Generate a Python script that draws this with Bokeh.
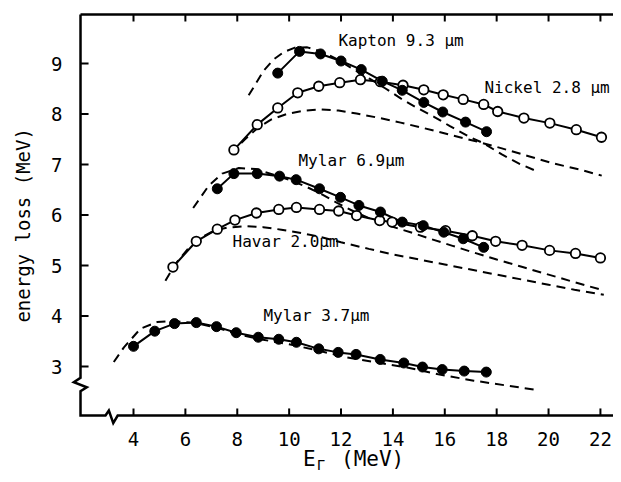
from bokeh.plotting import figure
from bokeh.models import Range1d, FixedTicker, ColumnDataSource
from bokeh.embed import file_html
from bokeh.resources import INLINE
from bokeh.core.properties import value

# ---------------- data (E_r in MeV, energy loss in MeV) ----------------
# measured points
kapton_e = [9.56, 10.40, 11.21, 12.0, 12.78, 13.59, 14.36, 15.19, 15.92, 16.80, 17.61]
kapton_v = [8.81, 9.24, 9.19, 9.05, 8.88, 8.65, 8.47, 8.23, 8.04, 7.84, 7.65]

nickel_e = [7.87, 8.77, 9.56, 10.33, 11.14, 11.95, 12.75, 13.52, 14.39, 15.19, 15.94,
            16.71, 17.50, 18.04, 19.05, 20.05, 21.07, 22.04]
nickel_v = [7.29, 7.79, 8.12, 8.42, 8.55, 8.62, 8.68, 8.64, 8.57, 8.48, 8.38,
            8.29, 8.19, 8.05, 7.92, 7.82, 7.69, 7.54]

mylar69_e = [7.23, 7.87, 8.77, 9.63, 10.27, 11.17, 11.98, 12.69, 13.52, 14.36, 15.17,
             15.96, 16.71, 17.50]
mylar69_v = [6.52, 6.82, 6.82, 6.77, 6.70, 6.52, 6.35, 6.19, 6.06, 5.86, 5.79,
             5.66, 5.53, 5.36]

havar_e = [5.52, 6.42, 7.23, 7.91, 8.74, 9.60, 10.28, 11.17, 11.91, 12.60, 13.49, 13.97,
           15.06, 16.03, 17.06, 17.96, 18.98, 20.04, 21.04, 22.0]
havar_v = [4.97, 5.48, 5.72, 5.90, 6.04, 6.11, 6.15, 6.11, 6.08, 5.99, 5.89, 5.86,
           5.76, 5.69, 5.59, 5.48, 5.40, 5.30, 5.24, 5.15]

mylar37_e = [4.0, 4.82, 5.58, 6.42, 7.20, 7.96, 8.81, 9.60, 10.28, 11.14, 11.89, 12.58,
             13.51, 14.42, 15.14, 15.90, 16.75, 17.60]
mylar37_v = [3.40, 3.70, 3.85, 3.87, 3.79, 3.67, 3.58, 3.54, 3.48, 3.35, 3.28, 3.24,
             3.14, 3.07, 2.99, 2.94, 2.91, 2.89]

# calculated (dashed) curves
kapton_th_e = [8.44, 9.02, 9.4, 9.8, 10.2, 10.7, 11.3, 11.9, 12.5, 13.1, 13.7, 14.3,
               14.9, 15.6, 16.2, 16.9, 17.5, 18.2, 18.9, 19.62]
kapton_th_v = [8.37, 8.86, 9.08, 9.23, 9.31, 9.32, 9.23, 9.07, 8.88, 8.70, 8.51, 8.31,
               8.13, 7.94, 7.76, 7.56, 7.42, 7.20, 7.01, 6.85]

nickel_th_e = [7.74, 8.3, 8.8, 9.3, 9.9, 10.5, 11.2, 11.9, 12.6, 13.4, 14.3, 15.2,
               16.2, 17.2, 18.2, 19.2, 20.2, 21.2, 22.05]
nickel_th_v = [7.22, 7.50, 7.73, 7.89, 8.00, 8.06, 8.09, 8.07, 8.01, 7.93, 7.83, 7.72,
               7.59, 7.46, 7.32, 7.17, 7.02, 6.90, 6.78]

mylar69_th_e = [6.30, 6.9, 7.42, 8.06, 8.7, 9.4, 10.1, 10.7, 11.3, 11.85, 12.5, 13.2,
                13.9, 14.68, 15.5, 16.3, 17.1, 18.0, 19.0, 20.0, 21.0, 22.1]
mylar69_th_v = [6.14, 6.58, 6.82, 6.93, 6.91, 6.80, 6.68, 6.55, 6.40, 6.24, 6.07, 5.91,
                5.78, 5.66, 5.52, 5.39, 5.26, 5.12, 4.97, 4.82, 4.67, 4.51]

havar_th_e = [5.23, 5.6, 6.1, 6.6, 7.1, 7.6, 8.3, 9.0, 9.7, 10.4, 11.1, 12.0, 13.07,
              14.0, 15.0, 16.0, 17.0, 18.0, 19.0, 20.0, 21.0, 22.13]
havar_th_v = [4.70, 5.02, 5.33, 5.55, 5.69, 5.75, 5.78, 5.76, 5.71, 5.65, 5.58, 5.46, 5.33,
              5.22, 5.12, 5.02, 4.92, 4.82, 4.72, 4.62, 4.52, 4.42]

mylar37_th_e = [3.24, 3.63, 4.27, 4.91, 5.55, 6.4, 7.2, 8.0, 9.0, 10.0, 11.0, 12.24,
                13.4, 14.55, 15.8, 17.12, 18.3, 19.5]
mylar37_th_v = [3.09, 3.38, 3.75, 3.88, 3.90, 3.86, 3.77, 3.64, 3.53, 3.44, 3.33, 3.18,
                3.08, 2.98, 2.84, 2.72, 2.63, 2.54]

# curve labels
label_text = ["Kapton 9.3 µm", "Nickel 2.8 µm", "Mylar 6.9µm", "Havar 2.0µm", "Mylar 3.7µm"]
label_e = [11.90, 17.53, 10.36, 7.82, 9.01]
label_v = [9.455, 8.525, 7.08, 5.475, 4.01]

# ticks
x_ticks = [4, 6, 8, 10, 12, 14, 16, 18, 20, 22]
y_ticks = [3, 4, 5, 6, 7, 8, 9]

# ---------------- layout constants ----------------
FONT = "DejaVu Sans Mono"
X_START, X_END = 1.494, 22.504
Y_START, Y_END = 0.862, 10.05
AXIS_E = 1.957       # position of the drawn left axis
AXIS_BOT = 2.03      # position of the drawn bottom axis
AXIS_TOP = 9.97      # position of the drawn top frame line
TICK_DX = 0.31
TICK_DY = 0.14
NB = "\u00a0"

p = figure(width=613, height=474,
           x_range=Range1d(X_START, X_END), y_range=Range1d(Y_START, Y_END),
           output_backend="svg", toolbar_location=None,
           min_border_left=68, min_border_right=0, min_border_top=10, min_border_bottom=0)
p.outline_line_color = None
p.grid.visible = False
p.background_fill_color = "white"

for ax in (p.xaxis[0], p.yaxis[0]):
    ax.axis_line_color = None
    ax.major_tick_line_color = None
    ax.minor_tick_line_color = None
    ax.major_tick_in = 0
    ax.major_tick_out = 0
    ax.minor_tick_in = 0
    ax.minor_tick_out = 0
    ax.major_label_text_font = FONT
    ax.major_label_text_font_size = "19px"
    ax.major_label_text_color = "black"
    ax.axis_label_text_font = FONT
    ax.axis_label_text_font_style = "normal"
    ax.axis_label_text_color = "black"

p.xaxis.ticker = FixedTicker(ticks=x_ticks)
p.yaxis.ticker = FixedTicker(ticks=y_ticks)
p.yaxis.major_label_standoff = 6
p.xaxis.fixed_location = AXIS_BOT
p.xaxis.major_label_standoff = 16

p.xaxis.axis_label = NB + NB + "E" + NB + NB + "(MeV)"
p.xaxis.axis_label_text_font_size = "21px"
p.xaxis.axis_label_standoff = -2

p.yaxis.axis_label = NB * 3 + "energy loss (MeV)"
p.yaxis.axis_label_text_font_size = "19px"
p.yaxis.axis_label_standoff = 14

# ---------------- frame with axis breaks ----------------
frame_e = [AXIS_E, AXIS_E, 1.70, 2.20, AXIS_E, AXIS_E, 2.92, 3.05, 3.22, 3.39, X_END]
frame_v = [AXIS_TOP, 2.776, 2.689, 2.59, 2.51, AXIS_BOT, AXIS_BOT, 2.13, 1.88, AXIS_BOT, AXIS_BOT]
p.line(frame_e, frame_v, line_color="black", line_width=2.5, line_join="miter")
p.line([AXIS_E, X_END], [AXIS_TOP, AXIS_TOP], line_color="black", line_width=2.5)

# inward ticks
p.segment(x0=[AXIS_E] * len(y_ticks), y0=y_ticks, x1=[AXIS_E + TICK_DX] * len(y_ticks), y1=y_ticks,
          line_color="black", line_width=2)
p.segment(x0=x_ticks, y0=[AXIS_BOT] * len(x_ticks), x1=x_ticks, y1=[AXIS_BOT + TICK_DY] * len(x_ticks),
          line_color="black", line_width=2)
p.segment(x0=x_ticks, y0=[AXIS_TOP] * len(x_ticks), x1=x_ticks, y1=[AXIS_TOP - TICK_DY] * len(x_ticks),
          line_color="black", line_width=2)

# ---------------- curves ----------------
DASH = "9 6"
for e, v in [(kapton_th_e, kapton_th_v), (nickel_th_e, nickel_th_v),
             (mylar69_th_e, mylar69_th_v), (havar_th_e, havar_th_v),
             (mylar37_th_e, mylar37_th_v)]:
    p.line(e, v, line_color="black", line_width=2, line_dash=DASH)

for e, v in [(nickel_e, nickel_v), (havar_e, havar_v), (kapton_e, kapton_v),
             (mylar69_e, mylar69_v), (mylar37_e, mylar37_v)]:
    p.line(e, v, line_color="black", line_width=2)

# open circles
for e, v in [(nickel_e, nickel_v), (havar_e, havar_v)]:
    p.scatter(e, v, marker="circle", size=9.5, fill_color="white", line_color="black", line_width=1.8)
# filled circles
for e, v in [(kapton_e, kapton_v), (mylar69_e, mylar69_v), (mylar37_e, mylar37_v)]:
    p.scatter(e, v, marker="circle", size=10, fill_color="black", line_color="black", line_width=1)

# curve labels
src = ColumnDataSource(dict(x=label_e, y=label_v, t=label_text))
p.text(x="x", y="y", text="t", source=src, text_font=value(FONT), text_font_size=value("16px"),
       text_align="left", text_baseline="middle", text_color="black")

# subscript of the x-axis title (E_Γ)
p.text(x=[11.06], y=[0.885], text=["Γ"], text_font=value(FONT), text_font_size=value("14px"),
       text_align="left", text_baseline="bottom", text_color="black")

open("out.html", "w").write(file_html(p, INLINE))
